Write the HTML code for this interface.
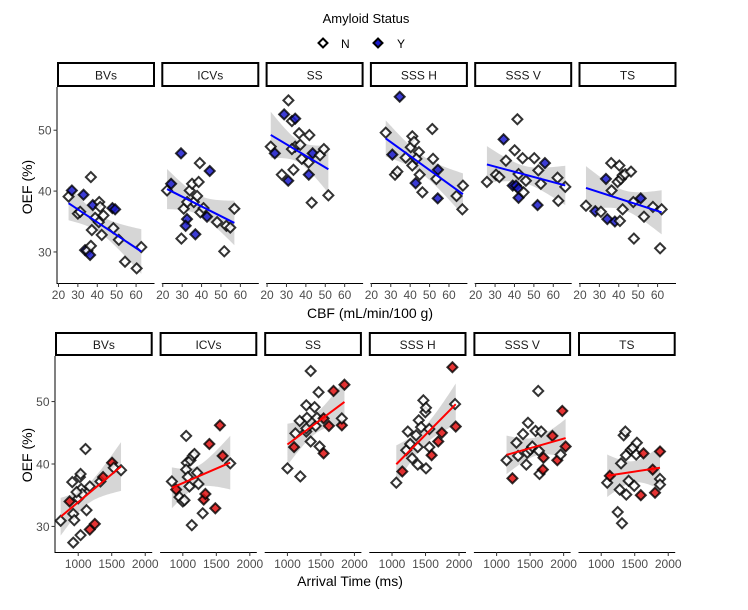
<!DOCTYPE html>
<html><head><meta charset="utf-8">
<style>
html,body{margin:0;padding:0;background:#fff;}
svg{display:block;font-family:"Liberation Sans",Arial,sans-serif;}
</style></head>
<body>
<svg id="chart" width="748" height="610" viewBox="0 0 748 610" xmlns="http://www.w3.org/2000/svg">
<g>
<text x="366" y="23" font-size="13" text-anchor="middle" fill="#000">Amyloid Status</text>
<path d="M323,38.5 L327.5,43 L323,47.5 L318.5,43 Z" fill="#fff" stroke="#000" stroke-width="2"/>
<text x="341" y="48" font-size="12" fill="#000">N</text>
<path d="M378,38.5 L382.5,43 L378,47.5 L373.5,43 Z" fill="#1a1acc" stroke="#000" stroke-width="2"/>
<text x="397" y="48" font-size="12" fill="#000">Y</text>
</g>
<text transform="translate(32,187) rotate(-90)" font-size="14" text-anchor="middle" fill="#000">OEF (%)</text>
<text transform="translate(32,455) rotate(-90)" font-size="14" text-anchor="middle" fill="#000">OEF (%)</text>
<text x="370" y="318" font-size="14" text-anchor="middle" fill="#000">CBF (mL/min/100 g)</text>
<text x="350" y="586" font-size="14" text-anchor="middle" fill="#000">Arrival Time (ms)</text>
<g id="plots"></g>
</svg>
<script>
const facetNames = ["BVs","ICVs","SS","SSS H","SSS V","TS"];
const yTicks = [30,40,50];
const cbfTicks = [20,30,40,50,60];
const arrTicks = [1000,1500,2000];

// Top row: CBF vs OEF
const bvsCbf = [25.2,26.9,30.0,32.9,31.2,36.7,37.7,37.2,33.7,34.9,36.3,36.7,38.9,41.0,41.5,40.8,42.3,43.2,47.8,48.3,49.2,51.1,54.3,60.3,62.7];
const bvsCbfOef = [39.1,40.1,36.3,39.4,36.6,42.3,37.7,33.6,30.3,30.2,29.5,31.0,35.6,38.2,37.4,34.9,32.8,36.0,37.2,33.9,37.0,32.0,28.4,27.3,30.8];
const bvsCbfAmy = ["N","Y","N","Y","N","N","Y","N","Y","N","Y","N","N","N","N","N","N","N","Y","N","Y","N","N","N","N"];
const icvsCbf = [22.2,24.3,29.4,29.6,30.8,32.5,31.8,33.9,35.1,36.8,36.0,37.7,38.5,39.1,39.4,42.8,44.2,48.0,51.7,52.8,54.8,56.9,32.6,41.0];
const icvsCbfOef = [40.1,41.2,46.2,32.2,37.1,35.4,34.3,40.1,41.2,32.9,38.2,39.2,41.5,44.6,36.5,35.8,43.3,34.9,30.1,34.3,34.0,37.1,38.2,37.2];
const icvsCbfAmy = ["N","Y","Y","N","N","Y","Y","N","N","Y","N","N","N","N","N","Y","Y","N","N","N","N","N","N","N"];
const ssCbf = [21.9,24.0,27.6,28.8,31.0,30.9,32.8,34.5,33.6,34.5,36.5,37.1,37.9,41.4,41.5,41.8,43.0,43.5,47.3,49.3,51.6,32.8];
const ssCbfOef = [47.3,46.2,42.7,52.6,54.9,41.7,51.5,51.9,43.5,47.3,49.5,47.6,45.3,44.7,42.7,49.2,38.1,46.2,45.9,46.9,39.3,46.9];
const ssCbfAmy = ["N","Y","N","Y","N","Y","N","Y","N","N","N","N","N","N","Y","N","N","Y","N","N","N","N"];
const ssshCbf = [27.4,30.8,32.2,33.4,34.6,37.7,40.3,41.1,42.0,41.1,42.8,44.5,44.9,46.3,43.2,51.8,51.4,54.3,53.5,54.2,63.9,67.2,66.9];
const ssshCbfOef = [49.6,46.0,42.7,43.2,55.5,45.5,47.2,49.0,48.1,44.2,41.3,46.4,42.7,39.8,45.3,45.3,50.2,43.5,42.0,38.8,39.2,40.9,37.0];
const ssshCbfAmy = ["N","Y","N","N","Y","N","N","N","N","N","Y","N","N","N","N","N","N","Y","N","Y","N","N","N"];
const sssvCbf = [25.8,30.5,32.2,34.4,35.6,40.1,41.5,39.1,40.8,42.1,42.1,42.1,44.2,44.7,45.9,50.2,52.3,51.9,53.6,55.7,62.2,62.6,66.2];
const sssvCbfOef = [41.5,42.7,42.3,48.5,45.0,46.7,51.8,40.9,40.9,40.4,38.9,42.8,45.4,39.8,41.7,45.4,43.4,37.7,41.2,44.6,42.2,38.4,40.7];
const sssvCbfAmy = ["N","N","N","Y","N","N","N","Y","Y","Y","Y","N","N","N","N","N","N","Y","N","Y","N","N","N"];
const tsCbf = [23.1,27.9,30.8,33.4,34.1,36.1,36.3,38.0,40.3,40.6,39.4,41.1,42.0,43.3,42.0,46.3,47.5,47.8,51.3,53.0,57.6,62.1,61.3];
const tsCbfOef = [37.6,36.7,36.6,42.0,35.4,44.6,40.1,35.0,44.2,35.1,41.5,42.0,42.6,42.8,37.0,43.2,38.2,32.2,38.8,35.8,37.4,37.0,30.6];
const tsCbfAmy = ["N","Y","N","Y","Y","N","N","Y","N","N","N","N","N","N","N","N","N","N","Y","N","N","N","N"];

// Bottom row: arrival time vs OEF
const bvsArr = [738,871,926,911,926,941,1000,1035,1025,1035,1045,1059,1109,1124,1173,1173,1248,1332,1371,1505,1530,1639,975];
const bvsArrOef = [30.9,34.0,27.4,37.1,32.0,31.0,34.5,28.6,37.9,38.4,36.0,35.2,42.4,32.6,36.4,29.5,30.4,37.2,37.9,40.2,39.4,39.0,35.5];
const bvsArrAmy = ["N","Y","N","N","N","N","N","N","N","N","N","N","N","N","N","Y","Y","N","Y","Y","N","N","N"];
const icvsArr = [837,901,950,1000,1025,1050,1059,1050,1074,1099,1114,1134,1149,1173,1213,1233,1297,1312,1337,1396,1485,1554,1594,1708];
const icvsArrOef = [37.2,35.9,34.7,34.0,34.2,44.5,40.2,39.1,37.9,36.4,40.6,30.2,41.3,41.6,38.6,36.8,32.1,34.3,35.2,43.2,32.9,46.2,41.3,40.1];
const icvsArrAmy = ["N","Y","N","N","N","N","N","N","N","N","N","N","N","N","N","N","N","Y","Y","Y","Y","Y","Y","N"];
const ssArr = [1000,1099,1119,1193,1183,1282,1292,1282,1347,1347,1406,1421,1441,1465,1480,1540,1540,1619,1688,1812,1812,1851,1282];
const ssArrOef = [39.3,42.7,44.9,38.0,46.9,49.4,47.4,45.2,54.9,43.6,49.1,46.1,47.4,51.5,42.8,41.7,47.3,46.1,51.7,46.2,47.3,52.7,45.7];
const ssArrAmy = ["N","Y","N","N","N","N","N","N","N","N","N","N","N","N","N","Y","Y","Y","Y","Y","N","Y","N"];
const ssshArr = [1064,1153,1212,1236,1271,1300,1360,1384,1384,1399,1433,1468,1497,1507,1507,1557,1557,1591,1690,1744,1901,1941,1951];
const ssshArrOef = [37.0,38.8,42.2,45.2,43.2,40.9,44.6,39.9,42.7,47.0,45.9,50.2,48.3,49.0,39.3,42.7,45.6,41.4,43.6,45.0,55.5,49.6,46.0];
const ssshArrAmy = ["N","Y","N","N","N","N","N","N","N","N","N","N","N","N","N","N","N","Y","Y","Y","Y","N","Y"];
const sssvArr = [1148,1236,1296,1320,1394,1443,1468,1458,1502,1532,1581,1621,1640,1665,1690,1700,1833,1906,1956,1980,2030,1631];
const sssvArrOef = [40.6,37.7,43.4,41.3,44.8,39.9,46.6,41.8,42.3,42.8,45.3,51.7,38.4,45.2,39.1,41.0,44.5,40.6,41.5,48.5,42.8,42.1];
const sssvArrAmy = ["N","Y","N","N","N","N","N","N","N","N","N","N","N","N","Y","Y","Y","Y","N","Y","Y","N"];
const tsArr = [1089,1128,1246,1276,1296,1310,1335,1360,1374,1369,1409,1443,1473,1493,1522,1532,1591,1631,1768,1803,1877,1877,1877];
const tsArrOef = [37.0,38.1,32.3,35.9,40.1,30.5,44.6,45.2,35.1,41.4,37.3,42.3,42.6,36.5,41.5,43.4,35.0,41.7,39.1,35.4,37.6,42.0,36.7];
const tsArrAmy = ["N","Y","N","N","N","N","N","N","N","N","N","N","N","N","N","N","Y","Y","Y","Y","N","Y","N"];

const topX = [bvsCbf,icvsCbf,ssCbf,ssshCbf,sssvCbf,tsCbf];
const topY = [bvsCbfOef,icvsCbfOef,ssCbfOef,ssshCbfOef,sssvCbfOef,tsCbfOef];
const topA = [bvsCbfAmy,icvsCbfAmy,ssCbfAmy,ssshCbfAmy,sssvCbfAmy,tsCbfAmy];
const botX = [bvsArr,icvsArr,ssArr,ssshArr,sssvArr,tsArr];
const botY = [bvsArrOef,icvsArrOef,ssArrOef,ssshArrOef,sssvArrOef,tsArrOef];
const botA = [bvsArrAmy,icvsArrAmy,ssArrAmy,ssshArrAmy,sssvArrAmy,tsArrAmy];

const NS = "http://www.w3.org/2000/svg";
const root = document.getElementById("plots");
function mk(tag, attrs, parent){ const e=document.createElementNS(NS,tag); for(const k in attrs) e.setAttribute(k,attrs[k]); parent.appendChild(e); return e; }

function fit(xs, ys){
  const n=xs.length; let mx=0,my=0; for(let i=0;i<n;i++){mx+=xs[i];my+=ys[i];} mx/=n; my/=n;
  let sxx=0,sxy=0; for(let i=0;i<n;i++){sxx+=(xs[i]-mx)**2; sxy+=(xs[i]-mx)*(ys[i]-my);}
  const b=sxy/sxx, a=my-b*mx; let sse=0; for(let i=0;i<n;i++){sse+=(ys[i]-a-b*xs[i])**2;}
  const s=Math.sqrt(sse/(n-2)); return {a,b,mx,sxx,s,n};
}

function drawRow(rowCfg){
  const {name, xsAll, ysAll, asAll, left0, stride, width, top, bottom, stripTop, xmin, xmax, ymin, ymax, xTicks, lineColor, fillY, showXTickLabelsFmt} = rowCfg;
  facetNames.forEach((fname, i)=>{
    const L = left0 + i*stride, R = L + width;
    const xs=(v)=> L + (v-xmin)/(xmax-xmin)*width;
    const ys=(v)=> bottom - (v-ymin)/(ymax-ymin)*(bottom-top);
    const g = mk("g",{},root);
    
    
    // strip
    const strip = mk("rect",{x:L+0.5,y:stripTop,width:width-1,height:top-stripTop-1,fill:"#fff",stroke:"#000","stroke-width":2},g);
    
    
    const st = mk("text",{x:(L+R)/2,y:stripTop+(top-stripTop)/2+4.5,"font-size":12,"text-anchor":"middle",fill:"#1a1a1a"},g);
    st.textContent=fname;
    
    
    // x axis
    const xa = mk("line",{x1:L,x2:R,y1:bottom+0.5,y2:bottom+0.5,stroke:"#000","stroke-width":1},g);
    
    
    xTicks.forEach(t=>{
      const x=xs(t);
      const tk = mk("line",{x1:x,x2:x,y1:bottom,y2:bottom+4,stroke:"#333","stroke-width":1},g);
      
      
      const tl = mk("text",{x:x,y:bottom+16,"font-size":12,"text-anchor":"middle",fill:"#4d4d4d"},g);
      tl.textContent=String(t);
      
      
    });
    if(i===0){
      const ya = mk("line",{x1:L-0.5,x2:L-0.5,y1:top,y2:bottom+1,stroke:"#000","stroke-width":1},g);
      
      
      yTicks.forEach(t=>{
        const y=ys(t);
        const tk = mk("line",{x1:L-4,x2:L,y1:y,y2:y,stroke:"#333","stroke-width":1},g);
        
        
        const tl = mk("text",{x:L-6,y:y+4.5,"font-size":12,"text-anchor":"end",fill:"#4d4d4d"},g);
        tl.textContent=String(t);
        
        
      });
    }
    const X=xsAll[i], Y=ysAll[i], A=asAll[i];
    const f=fit(X,Y);
    const x0=Math.min(...X), x1=Math.max(...X);
    const up=[], lo=[];
    for(let k=0;k<=40;k++){
      const xv=x0+(x1-x0)*k/40;
      const yh=f.a+f.b*xv;
      const se=f.s*Math.sqrt(1/f.n+(xv-f.mx)**2/f.sxx)*2.07;
      up.push(xs(xv).toFixed(2)+","+ys(yh+se).toFixed(2));
      lo.unshift(xs(xv).toFixed(2)+","+ys(yh-se).toFixed(2));
    }
    const band = mk("polygon",{points:up.concat(lo).join(" "),fill:"#999999","fill-opacity":0.4,stroke:"none"},g);
    
    
    // points
    for(let k=0;k<X.length;k++){
      const cx=xs(X[k]), cy=ys(Y[k]), r=5;
      const p = mk("path",{d:`M${cx},${cy-r} L${cx+r},${cy} L${cx},${cy+r} L${cx-r},${cy} Z`,fill:A[k]==="Y"?fillY:"#fff",stroke:"#000","stroke-width":2,"fill-opacity":0.85,"stroke-opacity":0.8},g);
      
      
    }
    const ln = mk("line",{x1:xs(x0),y1:ys(f.a+f.b*x0),x2:xs(x1),y2:ys(f.a+f.b*x1),stroke:lineColor,"stroke-width":2},g);
    
    
  });
}

drawRow({name:"cbf", xsAll:topX, ysAll:topY, asAll:topA, left0:57.5, stride:104.3, width:97, top:87, bottom:283, stripTop:63,
  xmin:19.5, xmax:69.5, ymin:24.9, ymax:57.1, xTicks:cbfTicks, lineColor:"#0000ff", fillY:"#1a1acc"});
drawRow({name:"arrival", xsAll:botX, ysAll:botY, asAll:botA, left0:55.5, stride:104.6, width:96.7, top:356, bottom:552, stripTop:333,
  xmin:661, xmax:2104, ymin:25.9, ymax:57.3, xTicks:arrTicks, lineColor:"#ff0000", fillY:"#e01010"});
</script>
</body></html>
